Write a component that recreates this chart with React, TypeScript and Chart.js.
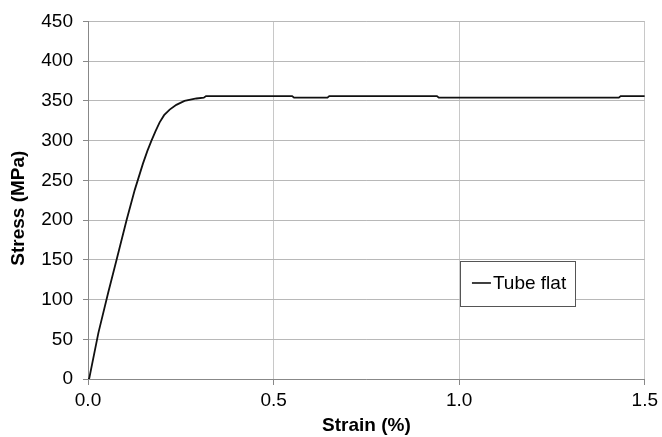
import React, { useEffect, useRef } from "react";
import { Chart, registerables } from "chart.js";

Chart.register(...registerables);

const seriesLabel = "Tube flat";
const xTitle = "Strain (%)";
const yTitle = "Stress (MPa)";
const strain = [0, 0.003, 0.028, 0.054, 0.077, 0.104, 0.126, 0.148, 0.16, 0.171, 0.182, 0.193, 0.205, 0.22, 0.238, 0.26, 0.292, 0.312, 0.318, 0.55, 0.555, 0.645, 0.65, 0.94, 0.945, 1.43, 1.435, 1.5];
const stress = [0, 0, 58, 108, 150, 200, 238, 271, 287, 300, 312, 323, 332, 339, 345, 350, 353, 354, 356, 356, 354, 354, 356, 356, 354, 354, 356, 356];
const xTicks = [0, 0.5, 1.0, 1.5];
const yMax = 450;
const yStep = 50;

const FONT = "'Liberation Sans', Arial, sans-serif";

const extras = {
  id: "extras",
  afterDraw(chart: any) {
    const ctx = chart.ctx;
    const xs = chart.scales.x;
    const ys = chart.scales.y;
    ctx.save();
    ctx.fillStyle = "#000000";
    ctx.font = `bold 19px ${FONT}`;
    ctx.textAlign = "center";
    ctx.textBaseline = "middle";
    ctx.translate(19, (ys.top + ys.bottom) / 2 + 8);
    ctx.rotate(-Math.PI / 2);
    ctx.fillText(yTitle, 0, 0);
    ctx.restore();

    const left = xs.left + (xs.right - xs.left) * 0.668;
    const top = ys.top + (ys.bottom - ys.top) * 0.67;
    const w = 115;
    const h = 45;
    ctx.save();
    ctx.fillStyle = "#ffffff";
    ctx.fillRect(left, top, w, h);
    ctx.strokeStyle = "#555555";
    ctx.lineWidth = 1;
    ctx.strokeRect(Math.round(left) + 0.5, Math.round(top) + 0.5, w, h);
    const cy = top + 22;
    ctx.strokeStyle = "#000000";
    ctx.lineWidth = 1.5;
    ctx.beginPath();
    ctx.moveTo(left + 12, cy);
    ctx.lineTo(left + 31, cy);
    ctx.stroke();
    ctx.fillStyle = "#000000";
    ctx.font = `19px ${FONT}`;
    ctx.textBaseline = "middle";
    ctx.textAlign = "left";
    ctx.fillText(chart.data.datasets[0].label, left + 33, cy + 1);
    ctx.restore();
  },
};

export default function App() {
  const ref = useRef<HTMLCanvasElement | null>(null);
  useEffect(() => {
    document.body.style.margin = "0";
    const canvas = ref.current!;
    const chart = new Chart(canvas, {
      type: "line",
      data: {
        datasets: [
          {
            label: seriesLabel,
            data: strain.map((x, i) => ({ x, y: stress[i] })),
            borderColor: "#111111",
            borderWidth: 1.8,
            pointRadius: 0,
            tension: 0,
            fill: false,
          },
        ],
      },
      options: {
        animation: false,
        responsive: false,
        maintainAspectRatio: false,
        layout: { padding: { top: 21, right: 15, left: 0, bottom: 0 } },
        plugins: { legend: { display: false }, tooltip: { enabled: false } },
        scales: {
          x: {
            type: "linear",
            min: 0,
            max: 1.5,
            afterBuildTicks: (s: any) => {
              s.ticks = xTicks.map((v) => ({ value: v }));
            },
            afterFit: (s: any) => {
              s.height = 58;
            },
            ticks: {
              callback: (v: any) => Number(v).toFixed(1),
              color: "#000000",
              font: { family: FONT, size: 19 },
              padding: 4,
              maxRotation: 0,
            },
            grid: {
              color: "#c8c8c8",
              lineWidth: 1,
              tickLength: 6,
              tickColor: "#888888",
            },
            border: { color: "#888888", width: 1 },
            title: {
              display: true,
              text: xTitle,
              color: "#000000",
              font: { family: FONT, size: 19, weight: "bold" },
              padding: { top: 1, bottom: 0 },
            },
          },
          y: {
            min: 0,
            max: yMax,
            ticks: {
              stepSize: yStep,
              color: "#000000",
              font: { family: FONT, size: 19 },
              padding: 10,
            },
            afterFit: (s: any) => {
              s.width = 88;
            },
            grid: {
              color: "#b8b8b8",
              lineWidth: 1,
              tickLength: 5,
              tickColor: "#888888",
            },
            border: { color: "#888888", width: 1 },
          },
        },
      },
      plugins: [extras],
    });
    return () => chart.destroy();
  }, []);
  return <canvas ref={ref} width={662} height={437} style={{ display: "block" }} />;
}
